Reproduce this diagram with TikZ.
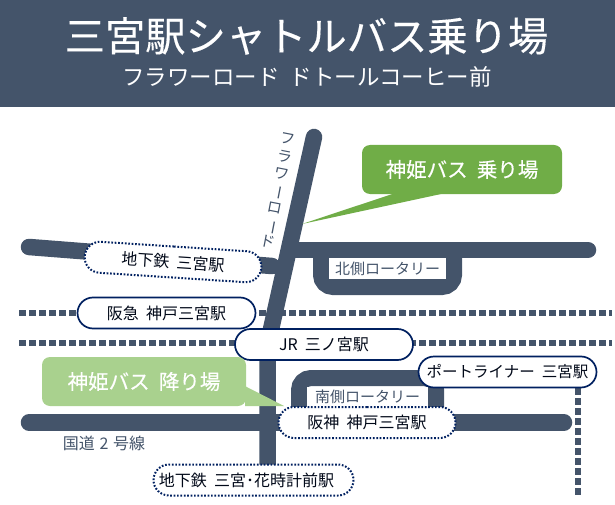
\documentclass[tikz,border=0pt]{standalone}
\usepackage{fontspec}
\setmainfont{Noto Sans CJK JP}
\newfontfamily\heavyfont[FakeBold=0.3]{Noto Sans CJK JP}
\usepackage{xcolor}
\usetikzlibrary{positioning, shapes.misc}
\definecolor{roadgray}{HTML}{44546A}
\definecolor{linenavy}{HTML}{002060}
\definecolor{ridegreen}{HTML}{70AD47}
\definecolor{dropgreen}{HTML}{A9D18E}
\newcommand{\fsz}[1]{\fontsize{#1}{#1}\selectfont}
\newcommand{\vbar}{\smash{\rotatebox[origin=c]{-90}{ー}}}
\newcommand{\gap}{\hspace{0.45em}}

\begin{document}
\begin{tikzpicture}[
    x=1pt, y=-1pt,
    road/.style={draw=roadgray, line width=16.5pt, line cap=round},
    rotary/.style={draw=roadgray, line width=16pt, rounded corners=12pt},
    rail/.style={draw=roadgray, line width=6pt, dash pattern=on 7pt off 3pt},
    station/.style={rounded rectangle, draw=linenavy, fill=white, line width=1.7pt, minimum height=31pt, inner sep=0pt, text=black!75!linenavy, font=\fsz{16}},
    dotstation/.style={station, line width=2pt, dash pattern=on 1.7pt off 1.7pt},
    bus/.style={rounded corners=8pt, minimum height=49pt, inner sep=0pt, text=white, font=\heavyfont\fsz{20.5}},
    roadlabel/.style={fill=white, inner sep=0pt, text=roadgray, font=\fsz{15}},
    ]
    \useasboundingbox (0,0) rectangle (615,505);
    %Title
    \fill[roadgray] (0,0) rectangle (615,107);
    \node[text=white, font=\heavyfont\fsz{40.3}] (title) at (306.5,36) {三宮駅シャトルバス乗り場};
    \node[text=white, font=\fsz{22.5}] (subtitle) at (307,77) {フラワーロード\gap ドトールコーヒー前};

    %Road ends
    \coordinate (flowertop) at (314,137);
    \coordinate (flowerbot) at (267.5,345);
    \coordinate (mainbot) at (267.5,465);
    \coordinate (westend) at (29,247);
    \coordinate (westjoin) at (272,266);
    \coordinate (eastjoin) at (290,250);
    \coordinate (eastend) at (588,250);
    \coordinate (kokudowest) at (29,422.5);
    \coordinate (kokudoeast) at (564,422.5);
    \coordinate (railawest) at (19,313);
    \coordinate (railaeast) at (612,313);
    \coordinate (railbwest) at (19,343);
    \coordinate (railbeast) at (612,343);
    \coordinate (railcnorth) at (578,388);
    \coordinate (railcsouth) at (578,498);

    \draw[road] (flowertop)--(flowerbot)--(mainbot);
    \draw[road] (westend)--(westjoin);
    \draw[road] (eastjoin)--(eastend);
    \draw[road] (kokudowest)--(kokudoeast);
    \draw[rotary] (321,250)--(321,287)--(454,287)--(454,250);
    \draw[rotary] (299,412)--(299,378)--(436,378)--(436,412);
    \draw[rail] (railawest)--(railaeast);
    \draw[rail] (railbwest)--(railbeast);
    \draw[rail] (railcnorth)--(railcsouth);

    %Road labels
    \node[roadlabel, minimum width=117pt, minimum height=21pt] (north) at (387.5,268.5) {北側ロータリー};
    \node[roadlabel, minimum width=121pt, minimum height=20pt] (south) at (367.5,397) {南側ロータリー};
    \node[roadlabel, fill=none, font=\fsz{16}] (kokudo) at (104,443) {国道\hspace{0.3em}2\hspace{0.3em}号線};
    \node[roadlabel, fill=none, rotate=-11, align=center, font=\fontsize{15}{17.5}\selectfont] (flower) at (278,191) {フ\\ラ\\ワ\\\vbar\\ロ\\\vbar\\ド};

    %Stations
    \node[dotstation, minimum width=177pt, rotate=-3.7] (subway) at (173,262) {地下鉄\gap 三宮駅};
    \node[station, minimum width=178pt] (hankyu) at (166.5,313) {阪急\gap 神戸三宮駅};
    \node[station, minimum width=178pt] (jr) at (324,344.5) {JR\gap 三ノ宮駅};
    \node[station, minimum width=178pt, font=\fsz{15.5}] (port) at (507.5,372) {ポートライナー\gap 三宮駅};
    \node[dotstation, minimum width=177pt] (hanshin) at (367,422.5) {阪神\gap 神戸三宮駅};
    \node[dotstation, minimum width=200pt] (hanadokei) at (253.5,480) {地下鉄\gap 三宮･花時計前駅\hspace{14pt}\null};

    %Bus stops
    \coordinate (ridetip) at (302,224);
    \coordinate (droptip) at (284,406);
    \node[bus, fill=ridegreen, minimum width=200pt] (ride) at (462,169.5) {神姫バス\gap 乗り場};
    \node[bus, fill=dropgreen, minimum width=204pt] (drop) at (144,381.5) {神姫バス\gap 降り場};
    \fill[ridegreen] ([xshift=33pt,yshift=1pt]ride.south west)--(ridetip)--([xshift=83pt,yshift=1pt]ride.south west)--cycle;
    \fill[dropgreen] ([xshift=-1pt,yshift=20pt]drop.south east)--(droptip)--([xshift=-1pt]drop.south east)--cycle;
    \end{tikzpicture}
\end{document}
